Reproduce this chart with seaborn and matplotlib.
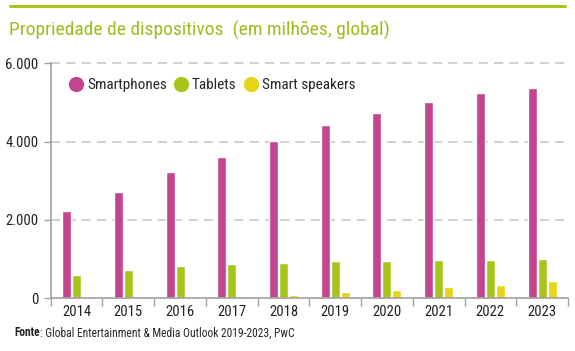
#Device ownership chart (millions, global)

#Import modules
import matplotlib
matplotlib.use('Agg')
import matplotlib.pyplot as plt
from matplotlib.lines import Line2D
from matplotlib.ticker import FuncFormatter, MultipleLocator, FixedLocator
import numpy as np
import pandas as pd
import seaborn as sns

#Data
years = ['2014', '2015', '2016', '2017', '2018', '2019', '2020', '2021', '2022', '2023']
smartphones = [2220, 2720, 3220, 3600, 4010, 4420, 4720, 5000, 5230, 5380]
tablets = [600, 720, 820, 880, 910, 940, 960, 985, 985, 1010]
speakers = [0, 0, 0, 30, 85, 150, 220, 300, 350, 440]
series = ['Smartphones', 'Tablets', 'Smart speakers']
colors = ['#C1468F', '#A8C41B', '#E6D418']

df = pd.DataFrame({'Ano': years * 3,
                   'Dispositivo': [s for s in series for _ in years],
                   'Valor': smartphones + tablets + speakers})

sns.set_style('white')
plt.rcParams['font.family'] = ['Roboto Condensed', 'Roboto', 'DejaVu Sans']

fig = plt.figure(figsize=(5.75, 3.51), dpi=100)
ax = fig.add_axes([50.7 / 575, 1 - 298.3 / 351, (568 - 50.7) / 575, (298.3 - 63.3) / 351])

sns.barplot(data=df, x='Ano', y='Valor', hue='Dispositivo', palette=colors,
            width=0.58, gap=0.1, saturation=1, ax=ax)

ax.set_ylim(0, 6000)
ax.set_xlim(-0.5, len(years) - 0.5)
ax.set_xlabel('')
ax.set_ylabel('')

#Grid
ax.yaxis.set_major_locator(MultipleLocator(2000))
for v in [2000, 4000, 6000]:
    ax.axhline(v, color='#C4C4C4', lw=1.1, ls=(0, (6, 4)), zorder=0, clip_on=False)

ax.yaxis.set_major_formatter(FuncFormatter(lambda v, p: f'{int(v):,}'.replace(',', '.')))
ax.tick_params(axis='y', left=True, length=5, color='#A0A0A0', width=1, labelsize=10.5, pad=4,
               labelcolor='#222222')
ax.tick_params(axis='x', which='major', length=0, labelsize=10.5, pad=5, labelcolor='#222222')
ax.xaxis.set_minor_locator(FixedLocator(np.arange(-0.5, len(years), 1)))
ax.tick_params(axis='x', which='minor', bottom=True, length=6, color='#A0A0A0', width=1)

for side in ['top', 'right']:
    ax.spines[side].set_visible(False)
for side in ['left', 'bottom']:
    ax.spines[side].set_color('#A0A0A0')
    ax.spines[side].set_linewidth(1.2)

#Legend
handles = [Line2D([], [], marker='o', ls='', markersize=10, markerfacecolor=c, markeredgecolor=c)
           for c in colors]
ax.legend(handles, series, loc='upper left', bbox_to_anchor=(0.005, 0.995), ncol=3, frameon=False,
          fontsize=11, handletextpad=0.1, columnspacing=0.35, handlelength=1.2)

#Title, rule and source
fig.add_artist(Line2D([10 / 575, 565 / 575], [1 - 6 / 351, 1 - 6 / 351], color='#A8C41B', lw=2.2))
fig.text(9 / 575, 1 - 30 / 351, 'Propriedade de dispositivos  (em milhões, global)',
         fontsize=14, color='#9CBD1E', va='center', ha='left')

t = fig.text(14 / 575, 1 - 333 / 351, 'Fonte', fontsize=8.3, fontweight='bold', va='center', ha='left')
fig.canvas.draw()
bb = t.get_window_extent()
fig.text(bb.x1 / 575, 1 - 333 / 351, ': Global Entertainment & Media Outlook 2019-2023, PwC',
         fontsize=8.3, va='center', ha='left')

fig.savefig('out.png', dpi=100)
